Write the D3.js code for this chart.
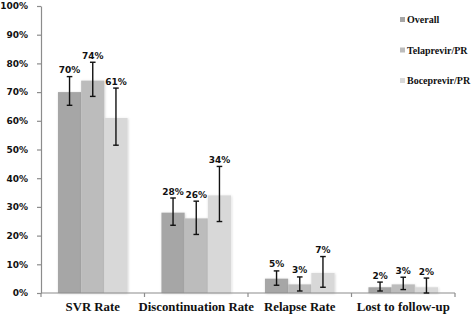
<!DOCTYPE html>
<html>
<head>
<meta charset="utf-8">
<script src="https://cdn.jsdelivr.net/npm/d3@7"></script>
<style>
  html, body { margin: 0; padding: 0; background: #fff; }
  #chart { width: 473px; height: 314px; }
</style>
</head>
<body>
<div id="chart"></div>
<script>
// categories + series
const categories = ["SVR Rate", "Discontinuation Rate", "Relapse Rate", "Lost to follow-up"];
const seriesNames = ["Overall", "Telaprevir/PR", "Boceprevir/PR"];

// values (%)
const overall    = [70, 28, 5, 2];
const telaprevir = [74, 26, 3, 3];
const boceprevir = [61, 34, 7, 2];

// error bars (low / high)
const overallLo    = [65.4, 23.6, 2.7, 0.7];
const overallHi    = [75.4, 33.1, 7.7, 3.8];
const telaprevirLo = [68.5, 20.4, 0.7, 1.2];
const telaprevirHi = [80.4, 32.0, 5.6, 5.5];
const boceprevirLo = [51.5, 24.9, 2.0, 0.0];
const boceprevirHi = [71.4, 44.1, 12.7, 5.2];

const yTicks = [0, 10, 20, 30, 40, 50, 60, 70, 80, 90, 100];

const colors = ["#a6a6a6", "#bcbcbc", "#d8d8d8"];

// build rows
const vals = [overall, telaprevir, boceprevir];
const los  = [overallLo, telaprevirLo, boceprevirLo];
const his  = [overallHi, telaprevirHi, boceprevirHi];
const data = [];
categories.forEach((c, i) => {
  seriesNames.forEach((s, j) => {
    data.push({ cat: c, series: s, value: vals[j][i], lo: los[j][i], hi: his[j][i], color: colors[j] });
  });
});

const W = 473, H = 314;
const margin = { top: 6, right: 18, bottom: 21, left: 41 };

const svg = d3.select("#chart").append("svg")
  .attr("width", W).attr("height", H);

// soft shadow like the office chart
const defs = svg.append("defs");
const f = defs.append("filter").attr("id", "sh").attr("x", "-20%").attr("y", "-20%").attr("width", "140%").attr("height", "140%");
f.append("feDropShadow").attr("dx", 0.6).attr("dy", 0.6).attr("stdDeviation", 0.8)
  .attr("flood-color", "#000").attr("flood-opacity", 0.18);

const x0 = d3.scaleBand()
  .domain(categories)
  .range([margin.left, W - margin.right]);

const x1 = d3.scaleBand()
  .domain(seriesNames)
  .range([0, x0.bandwidth()])
  .paddingInner(0)
  .paddingOuter(0.73);

const y = d3.scaleLinear()
  .domain([0, 100])
  .range([H - margin.bottom, margin.top]);

const axisColor = "#8c8c8c";

// y axis
const gy = svg.append("g")
  .attr("transform", `translate(${margin.left},0)`)
  .call(d3.axisLeft(y).tickValues(yTicks).tickSize(4).tickSizeOuter(0).tickPadding(9)
    .tickFormat(d => d + "%"));
gy.select(".domain").attr("stroke", axisColor).attr("stroke-width", 1.2);
gy.selectAll(".tick line").attr("stroke", axisColor).attr("stroke-width", 1.2);
gy.selectAll(".tick text")
  .attr("font-family", "'DejaVu Sans', Verdana, sans-serif")
  .attr("font-weight", "bold").attr("font-size", 9).attr("fill", "#111");

// bars
svg.append("g").selectAll("rect")
  .data(data).join("rect")
  .attr("x", d => x0(d.cat) + x1(d.series))
  .attr("y", d => y(d.value))
  .attr("width", x1.bandwidth())
  .attr("height", d => y(0) - y(d.value))
  .attr("fill", d => d.color)
  .attr("filter", "url(#sh)");

// x axis (category boundaries ticks)
const gx = svg.append("g")
  .attr("transform", `translate(0,${y(0)})`);
gx.append("line")
  .attr("x1", x0.range()[0]).attr("x2", x0.range()[1])
  .attr("stroke", axisColor).attr("stroke-width", 1.2);
gx.selectAll("line.tk")
  .data(categories.map(c => x0(c)).concat([x0.range()[1]]))
  .join("line").attr("class", "tk")
  .attr("x1", d => d).attr("x2", d => d)
  .attr("y1", 0).attr("y2", 4)
  .attr("stroke", axisColor).attr("stroke-width", 1.2);
gx.selectAll("text")
  .data(categories).join("text")
  .attr("x", d => x0(d) + x0.bandwidth() / 2)
  .attr("y", 18)
  .attr("text-anchor", "middle")
  .attr("font-family", "'Liberation Serif', 'Times New Roman', serif")
  .attr("font-weight", "bold").attr("font-size", 12.8).attr("fill", "#111")
  .text(d => d);

// error bars
const cap = 2.8;
const eb = svg.append("g").attr("stroke", "#111").attr("stroke-width", 1.4);
data.forEach(d => {
  const cx = x0(d.cat) + x1(d.series) + x1.bandwidth() / 2;
  eb.append("line").attr("x1", cx).attr("x2", cx).attr("y1", y(d.lo)).attr("y2", y(d.hi));
  eb.append("line").attr("x1", cx - cap).attr("x2", cx + cap).attr("y1", y(d.lo)).attr("y2", y(d.lo));
  eb.append("line").attr("x1", cx - cap).attr("x2", cx + cap).attr("y1", y(d.hi)).attr("y2", y(d.hi));
});

// value labels
svg.append("g").selectAll("text")
  .data(data).join("text")
  .attr("x", d => x0(d.cat) + x1(d.series) + x1.bandwidth() / 2)
  .attr("y", d => y(d.hi) - 3.5)
  .attr("text-anchor", "middle")
  .attr("font-family", "'DejaVu Sans', Verdana, sans-serif")
  .attr("font-weight", "bold").attr("font-size", 9).attr("fill", "#111")
  .text(d => d.value + "%");

// legend
const lg = svg.append("g").attr("transform", "translate(400,0)");
seriesNames.forEach((s, j) => {
  const yy = 23 + j * 30.5;
  lg.append("rect").attr("x", 0).attr("y", yy - 6).attr("width", 5).attr("height", 5).attr("fill", colors[j]);
  lg.append("text").attr("x", 7).attr("y", yy)
    .attr("font-family", "'Liberation Serif', 'Times New Roman', serif")
    .attr("font-weight", "bold").attr("font-size", 10).attr("fill", "#111")
    .text(s);
});
</script>
</body>
</html>
